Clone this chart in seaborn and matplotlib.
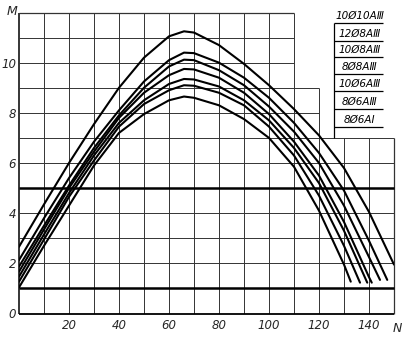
import matplotlib
matplotlib.use("Agg")
import matplotlib.pyplot as plt
import seaborn as sns
import pandas as pd

# ---- data ----
N_common = [0, 10, 20, 30, 40, 50, 60, 66, 70, 80, 90, 100, 110, 120, 130, 140]

M_A = [2.66, 4.35, 6.0, 7.55, 9.0, 10.2, 11.05, 11.25, 11.2, 10.7, 9.95, 9.1, 8.15, 7.1, 5.8, 4.05]
M_B = [2.13, 3.8, 5.4, 6.85, 8.1, 9.25, 10.1, 10.4, 10.38, 10.0, 9.4, 8.6, 7.6, 6.4, 4.9, 2.9]
M_C = [1.87, 3.5, 5.1, 6.6, 7.9, 9.0, 9.85, 10.12, 10.1, 9.7, 9.1, 8.25, 7.25, 6.0, 4.3, 2.25]
M_D = [1.67, 3.35, 5.0, 6.45, 7.8, 8.8, 9.5, 9.75, 9.73, 9.4, 8.8, 7.95, 6.85, 5.5, 3.65, 1.45]
M_E = [1.47, 3.15, 4.8, 6.3, 7.6, 8.5, 9.15, 9.35, 9.33, 9.05, 8.5, 7.7, 6.6, 5.2, 3.3]
M_F = [1.27, 2.95, 4.65, 6.1, 7.45, 8.35, 8.9, 9.1, 9.08, 8.8, 8.3, 7.45, 6.3, 4.7, 2.7]
M_G = [1.04, 2.7, 4.3, 5.9, 7.2, 7.95, 8.5, 8.65, 8.6, 8.3, 7.75, 7.0, 5.85, 4.1, 1.95]

end_N = [150.0, 147.3, 144.4, 141.1, 139.3, 136.4, 132.7]
end_M = [1.95, 1.34, 1.34, 1.23, 1.23, 1.23, 1.27]

labels = ["10Ø10AⅢ", "12Ø8AⅢ", "10Ø8AⅢ", "8Ø8AⅢ", "10Ø6AⅢ", "8Ø6AⅢ", "8Ø6AⅠ"]

x_ticks = [20, 40, 60, 80, 100, 120, 140]
y_ticks = [0, 2, 4, 6, 8, 10]

# ---- build table ----
series = [M_A, M_B, M_C, M_D, M_E, M_F, M_G]
rows = []
for i, (ms, en, em) in enumerate(zip(series, end_N, end_M)):
    for n, m in zip(N_common, ms):
        rows.append({"N": n, "M": m, "curve": labels[i]})
    rows.append({"N": en, "M": em, "curve": labels[i]})
df = pd.DataFrame(rows)

sns.set_theme(style="white")
plt.rcParams["font.family"] = ["DejaVu Sans"]

fig = plt.figure(figsize=(4.10, 3.39), dpi=100)
ax = fig.add_axes([19 / 410, 1 - 313.5 / 339, 375 / 410, 301 / 339])
ax.set_xlim(0, 150)
ax.set_ylim(0, 12)
for s in ax.spines.values():
    s.set_visible(False)

gc = "#333333"
glw = 0.7
# grid: vertical lines
for n in range(10, 111, 10):
    ax.vlines(n, 0, 12, color=gc, lw=glw, zorder=1)
ax.vlines(120, 0, 9, color=gc, lw=glw, zorder=1)
ax.vlines([130, 140], 0, 7, color=gc, lw=glw, zorder=1)
ax.vlines(150, 0, 7, color=gc, lw=0.9, zorder=1, clip_on=False)
ax.vlines(0, 0, 12, color="black", lw=1.1, zorder=1, clip_on=False)
# horizontal lines
for m in range(1, 8):
    if m in (1, 5):
        ax.hlines(m, 0, 150, color="black", lw=1.8, zorder=1, clip_on=False)
    else:
        ax.hlines(m, 0, 150, color=gc, lw=glw, zorder=1, clip_on=False)
ax.hlines([8, 9], 0, 120, color=gc, lw=glw, zorder=1)
ax.hlines([10, 11], 0, 110, color=gc, lw=glw, zorder=1)
ax.hlines(12, 0, 110, color=gc, lw=0.9, zorder=1, clip_on=False)
ax.hlines(0, 0, 150, color="black", lw=1.3, zorder=1, clip_on=False)

# curves
sns.lineplot(data=df, x="N", y="M", units="curve", estimator=None, sort=False,
             color="black", lw=1.5, ax=ax, legend=False, zorder=3,
             solid_joinstyle="round")

# legend table
leg_x0, leg_x1 = 126, 145.6
under_M = [11.58, 10.87, 10.23, 9.55, 8.87, 8.15, 7.44]
ax.vlines(leg_x0, 7, under_M[0], color="black", lw=0.9, clip_on=False)
for lab, um in zip(labels, under_M):
    ax.hlines(um, leg_x0, leg_x1, color="black", lw=0.9, clip_on=False)
    ax.text((leg_x0 + leg_x1) / 2 + 0.5, um + 0.1, lab, ha="center", va="bottom",
            fontsize=7.5, style="italic", color="black")

# ticks
ax.set_xticks(x_ticks)
ax.set_xticklabels([str(t) for t in x_ticks], style="italic", fontsize=8.5)
ax.set_yticks(y_ticks)
ax.set_yticklabels([str(t) for t in y_ticks], style="italic", fontsize=8.5)
ax.tick_params(axis="x", length=0, pad=4)
ax.tick_params(axis="y", length=0, pad=2)
ax.set_xlabel("")
ax.set_ylabel("")
ax.text(-2.8, 12.02, "M", ha="center", va="center", style="italic", fontsize=9)
ax.text(151.5, -0.58, "N", ha="center", va="center", style="italic", fontsize=9)

fig.savefig("out.png", dpi=100)
